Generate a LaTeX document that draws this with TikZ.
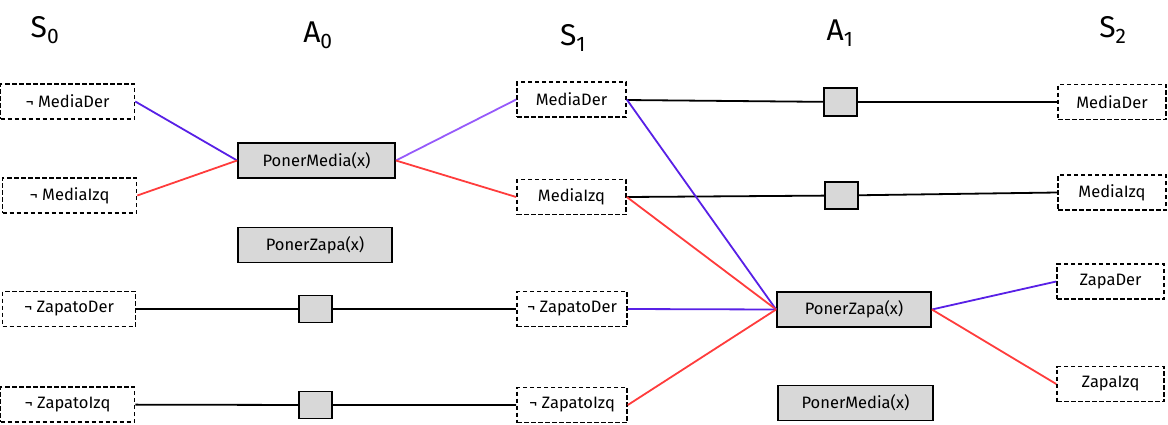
\documentclass[tikz,border=0pt]{standalone}
\usepackage{fontspec}
\setmainfont{Fira Sans}
\usepackage{tikz}
\definecolor{lblue}{RGB}{88,32,230}
\definecolor{lpurple}{RGB}{150,90,250}
\definecolor{lred}{RGB}{255,60,60}
\definecolor{boxgray}{RGB}{216,216,216}
\tikzset{
  statebox/.style={draw, line width=1.6pt, dash pattern=on 4.5pt off 2.5pt, minimum height=35pt, inner sep=0pt, font=\fontsize{16.5}{18}\selectfont},
  actbox/.style={draw, line width=1.8pt, fill=boxgray, minimum height=35pt, inner sep=0pt, font=\fontsize{16.5}{18}\selectfont},
  noopbox/.style={draw, line width=1.8pt, fill=boxgray, minimum width=33pt, minimum height=27pt, inner sep=0pt},
  header/.style={font=\fontsize{30}{32}\selectfont},
  link/.style={line width=1.8pt}
}
\begin{document}
\begin{tikzpicture}[x=1pt, y=-1pt]
            \useasboundingbox (0,0) rectangle (1168,424);

            % Headers
            \node[header] (h0) at (45, 30) {S\textsubscript{0}};
            \node[header] (h1) at (318, 35) {A\textsubscript{0}};
            \node[header] (h2) at (573, 38) {S\textsubscript{1}};
            \node[header] (h3) at (840, 33) {A\textsubscript{1}};
            \node[header] (h4) at (1113, 30) {S\textsubscript{2}};

            % Nodes
            \node[statebox, minimum width=134pt] (a1) at (67.5, 101.5) {¬ MediaDer};
            \node[statebox, minimum width=134pt] (a2) at (69.5, 195.5) {¬ MediaIzq};
            \node[statebox, minimum width=133pt] (a3) at (69, 309) {¬ ZapatoDer};
            \node[statebox, minimum width=134pt] (a4) at (67.5, 404.5) {¬ ZapatoIzq};

            \node[actbox, minimum width=157pt] (b1) at (316.5, 160.5) {PonerMedia(x)};
            \node[actbox, minimum width=154pt] (b2) at (315, 245) {PonerZapa(x)};
            \node[noopbox] (b3) at (315.5, 309) {};
            \node[noopbox] (b4) at (315.5, 405) {};

            \node[statebox, minimum width=109pt] (c1) at (571.5, 99.5) {MediaDer};
            \node[statebox, minimum width=109pt] (c2) at (571.5, 197) {MediaIzq};
            \node[statebox, minimum width=110pt] (c3) at (572, 309) {¬ ZapatoDer};
            \node[statebox, minimum width=110pt] (c4) at (572, 405) {¬ ZapatoIzq};

            \node[noopbox, minimum height=28pt] (d1) at (840.5, 102) {};
            \node[noopbox] (d2) at (841.5, 195.5) {};
            \node[actbox, minimum width=154pt] (d3) at (854, 309.5) {PonerZapa(x)};
            \node[actbox, minimum width=155pt] (d4) at (855.5, 403) {PonerMedia(x)};

            \node[statebox, minimum width=108pt] (e1) at (1112, 102) {MediaDer};
            \node[statebox, minimum width=108pt] (e2) at (1112, 192.5) {MediaIzq};
            \node[statebox, minimum width=107pt] (e3) at (1110.5, 281.5) {ZapaDer};
            \node[statebox, minimum width=107pt] (e4) at (1110.5, 384) {ZapaIzq};

            % Lines
            \draw[link, lblue] (a1.east) -- (b1.west);
            \draw[link, lred] (a2.east) -- (b1.west);
            \draw[link, lpurple] (b1.east) -- (c1.west);
            \draw[link, lred] (b1.east) -- (c2.west);
            \draw[link] (a3) -- (b3) -- (c3);
            \draw[link] (a4) -- (b4) -- (c4);

            \draw[link] (c1) -- (d1) -- (e1);
            \draw[link] (c2.east) -- (d2) -- (e2.west);
            \draw[link, lblue] (c1.east) -- (d3.west);
            \draw[link, lred] (c2.east) -- (d3.west);
            \draw[link, lblue] (c3.east) -- (d3.west);
            \draw[link, lred] (c4.east) -- (d3.west);
            \draw[link, lblue] (d3.east) -- (e3.west);
            \draw[link, lred] (d3.east) -- (e4.west);
        \end{tikzpicture}
\end{document}
